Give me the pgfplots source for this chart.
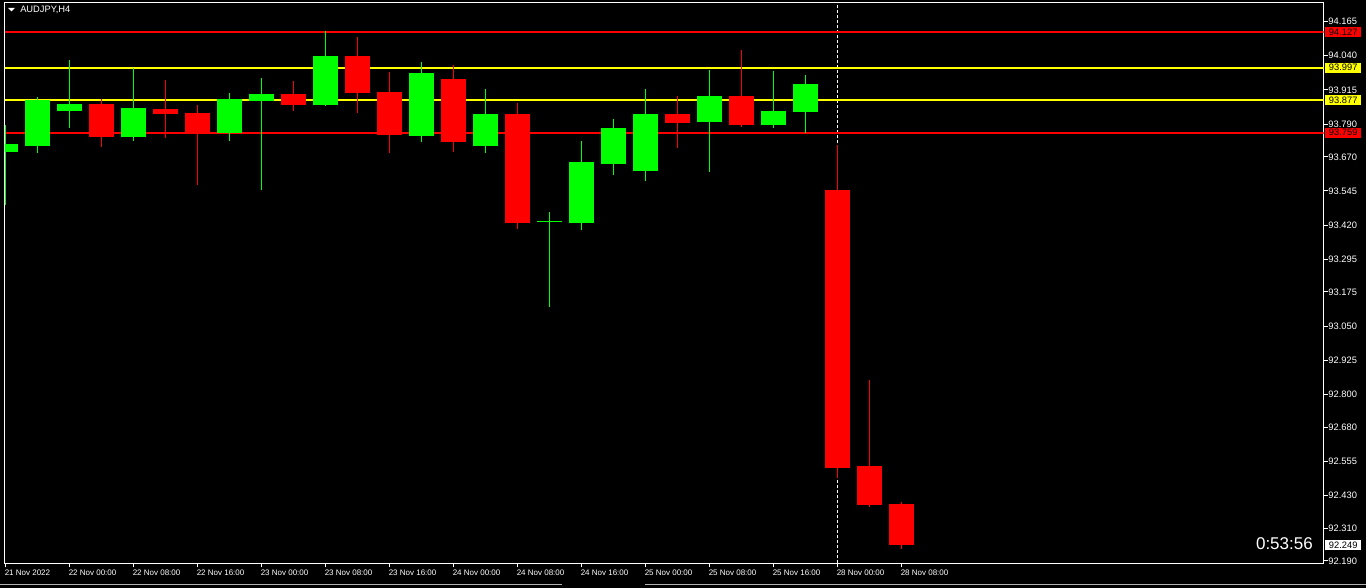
\documentclass[border=0pt]{standalone}
\usepackage{pgfplots}
\pgfplotsset{compat=1.18}
\usepackage{pgfplotstable}
\usepackage{fontspec}
\setmainfont{Liberation Sans}
\definecolor{cgreen}{RGB}{0,255,0}
\definecolor{cred}{RGB}{255,0,0}
\definecolor{cyellow}{RGB}{255,255,0}

% AUDJPY H4 candles: index, open, high, low, close
\pgfplotstableread{
i  o      h      l      c
0  93.689 93.787 93.494 93.717
1  93.711 93.889 93.685 93.879
2  93.839 94.025 93.777 93.863
4  93.744 93.996 93.729 93.849
7  93.758 93.904 93.729 93.882
8  93.876 93.959 93.550 93.900
10 93.861 94.134 93.857 94.039
13 93.747 94.017 93.725 93.977
15 93.711 93.918 93.685 93.827
17 93.433 93.468 93.121 93.436
18 93.429 93.728 93.403 93.651
19 93.645 93.809 93.605 93.776
20 93.619 93.918 93.583 93.827
22 93.799 93.988 93.616 93.893
24 93.788 93.984 93.777 93.838
25 93.835 93.970 93.758 93.937
}\greencandles

\pgfplotstableread{
i  o      h      l      c
3  93.863 93.884 93.707 93.744
5  93.845 93.951 93.740 93.828
6  93.830 93.859 93.568 93.760
9  93.900 93.948 93.839 93.861
11 94.039 94.109 93.832 93.905
12 93.907 93.981 93.685 93.751
14 93.955 94.006 93.689 93.722
16 93.827 93.867 93.407 93.429
21 93.830 93.893 93.703 93.795
23 93.893 94.061 93.780 93.788
26 93.549 93.713 92.495 92.533
27 92.539 92.853 92.389 92.396
28 92.400 92.407 92.235 92.249
}\redcandles

\begin{document}
\begin{tikzpicture}
\useasboundingbox (0,0) rectangle (1024.5pt,441pt);
\begin{scope}[x=0.75pt,y=0.75pt]
\fill[black] (0,0) rectangle (1366,588);
\draw[gray!60, line width=0.75pt] (0,3.5) -- (562,3.5);
\draw[gray!60, line width=0.75pt] (645,3.5) -- (1366,3.5);
\end{scope}
\begin{axis}[
  at={(3.375pt,18.375pt)}, anchor=south west,
  scale only axis, width=989.25pt, height=420.75pt,
  xmin=-0.03125, xmax=41.1875, ymin=92.1808, ymax=94.2351,
  axis line style={white, line width=0.75pt},
  clip mode=individual,
  tick align=outside,
  major tick length=3pt,
  tick style={white, line width=0.75pt},
  xtick pos=left,
  ytick pos=right,
  yticklabel pos=right,
  xtick={0,2,...,28},
  xticklabels={21 Nov 2022, 22 Nov 00:00, 22 Nov 08:00, 22 Nov 16:00, 23 Nov 00:00, 23 Nov 08:00, 23 Nov 16:00, 24 Nov 00:00, 24 Nov 08:00, 24 Nov 16:00, 25 Nov 00:00, 25 Nov 08:00, 25 Nov 16:00, 28 Nov 00:00, 28 Nov 08:00},
  ytick={94.165,94.040,93.915,93.790,93.670,93.545,93.420,93.295,93.175,93.050,92.925,92.800,92.680,92.555,92.430,92.310,92.190},
  yticklabels={94.165,94.040,93.915,93.790,93.670,93.545,93.420,93.295,93.175,93.050,92.925,92.800,92.680,92.555,92.430,92.310,92.190},
  x tick label style={font=\fontsize{6}{7}\selectfont, text=white, anchor=north west, inner sep=0pt, xshift=-0.75pt, yshift=-1.5pt},
  y tick label style={font=\fontsize{7}{8}\selectfont, text=white, anchor=west, inner sep=0pt, xshift=0.5pt},
  candle/.style={draw=none, mark=none, forget plot, error bars/.cd, y dir=both, y explicit, error mark=none},
]
% current-bar separator
\addplot[white, line width=0.75pt, dash pattern=on 2.25pt off 1.5pt] coordinates {(26,92.1808) (26,94.2351)};
% horizontal levels
\addplot[cred, line width=1.5pt] coordinates {(-0.03125,94.127) (41.1875,94.127)};
\addplot[cyellow, line width=1.5pt] coordinates {(-0.03125,93.997) (41.1875,93.997)};
\addplot[cyellow, line width=1.5pt] coordinates {(-0.03125,93.877) (41.1875,93.877)};
\addplot[cred, line width=1.5pt] coordinates {(-0.03125,93.759) (41.1875,93.759)};
% green candles
\addplot[candle, error bar style={draw=cgreen, line width=1pt}]
  table[x=i, y expr={(\thisrow{h}+\thisrow{l})/2}, y error expr={(\thisrow{h}-\thisrow{l})/2}] {\greencandles};
\addplot[candle, error bar style={draw=cgreen, line width=18.75pt}]
  table[x=i, y expr={(\thisrow{o}+\thisrow{c})/2}, y error expr={abs(\thisrow{c}-\thisrow{o})/2}] {\greencandles};
% red candles
\addplot[candle, error bar style={draw=cred, line width=1pt}]
  table[x=i, y expr={(\thisrow{h}+\thisrow{l})/2}, y error expr={(\thisrow{h}-\thisrow{l})/2}] {\redcandles};
\addplot[candle, error bar style={draw=cred, line width=18.75pt}]
  table[x=i, y expr={(\thisrow{o}+\thisrow{c})/2}, y error expr={abs(\thisrow{c}-\thisrow{o})/2}] {\redcandles};
% price tags
\node[fill=cred, text=black, font=\fontsize{7}{8}\selectfont, inner sep=0pt, minimum width=27pt, minimum height=7.5pt, anchor=west, xshift=1.1pt] at (axis cs:41.1875,94.127) {94.127};
\node[fill=cyellow, text=black, font=\fontsize{7}{8}\selectfont, inner sep=0pt, minimum width=27pt, minimum height=7.5pt, anchor=west, xshift=1.1pt] at (axis cs:41.1875,93.997) {93.997};
\node[fill=cyellow, text=black, font=\fontsize{7}{8}\selectfont, inner sep=0pt, minimum width=27pt, minimum height=7.5pt, anchor=west, xshift=1.1pt] at (axis cs:41.1875,93.877) {93.877};
\node[fill=cred, text=black, font=\fontsize{7}{8}\selectfont, inner sep=0pt, minimum width=27pt, minimum height=7.5pt, anchor=west, xshift=1.1pt] at (axis cs:41.1875,93.759) {93.759};
\node[fill=white, text=black, font=\fontsize{7}{8}\selectfont, inner sep=0pt, minimum width=27pt, minimum height=7.5pt, anchor=west, xshift=1.1pt] at (axis cs:41.1875,92.249) {92.249};
\node[anchor=east, text=white, font=\fontsize{12.75}{14}\selectfont, inner sep=0pt] at (axis cs:40.86,92.252) {0:53:56};
\end{axis}
\begin{scope}[x=0.75pt,y=0.75pt]
\fill[white] (8,580) -- (15,580) -- (11.5,576.5) -- cycle;
\node[anchor=west, text=white, font=\fontsize{7}{8}\selectfont, inner sep=0pt] at (20,578) {AUDJPY,H4};
\end{scope}
\end{tikzpicture}
\end{document}
